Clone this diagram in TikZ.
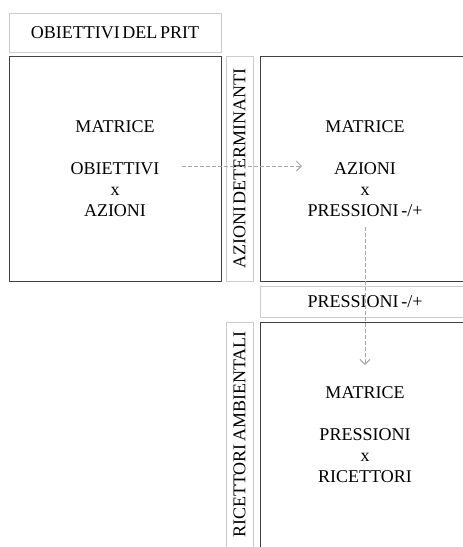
\documentclass[tikz,border=0pt]{standalone}
\usepackage{fontspec}
\setmainfont{Liberation Serif}[WordSpace=0.6]
\usetikzlibrary{positioning,arrows.meta}

\begin{document}
\begin{tikzpicture}[
    x=1pt, y=-1pt,
    matbox/.style={draw=black!75, line width=0.8pt, minimum width=212pt, minimum height=225pt, align=center, inner sep=0pt},
    tagbox/.style={draw=black!20, line width=0.8pt, inner sep=0pt, align=center},
    flow/.style={-{Straight Barb[length=5pt, width=10pt, line width=1pt]}, black!35, line width=0.9pt, dash pattern=on 4pt off 2pt},
    every node/.style={font=\fontsize{18}{21}\selectfont, text=black},
]
\path[use as bounding box, clip] (0,0) rectangle (463,547);

% === Top row ===
\node[tagbox, minimum width=212pt, minimum height=39pt] (prit) at (115, 32.5) {OBIETTIVI DEL PRIT};

\node[matbox] (mat1) at (115, 168.5) {MATRICE\\[21pt]OBIETTIVI\\x\\AZIONI};
\node[tagbox, minimum width=225pt, minimum height=27pt, rotate=90] (det) at (239.5, 168.5) {AZIONI DETERMINANTI};
\node[matbox, minimum width=210pt] (mat2) at (365, 168.5) {MATRICE\\[21pt]AZIONI\\x\\PRESSIONI -/+};

% === Bottom row ===
\node[tagbox, minimum width=210pt, minimum height=31pt] (press) at (365, 301.5) {PRESSIONI -/+};
\node[tagbox, minimum width=225pt, minimum height=27pt, rotate=90] (ric) at (239.5, 434.5) {RICETTORI AMBIENTALI};
\node[matbox, minimum width=210pt] (mat3) at (365, 434.5) {MATRICE\\[21pt]PRESSIONI\\x\\RICETTORI};

% Flow
\coordinate (f1a) at (182, 166);
\coordinate (f1b) at (302, 166);
\coordinate (f2a) at (365, 227);
\coordinate (f2b) at (365, 365);
\draw[flow] (f1a) -- (f1b);
\draw[flow] (f2a) -- (f2b);

\end{tikzpicture}
\end{document}
